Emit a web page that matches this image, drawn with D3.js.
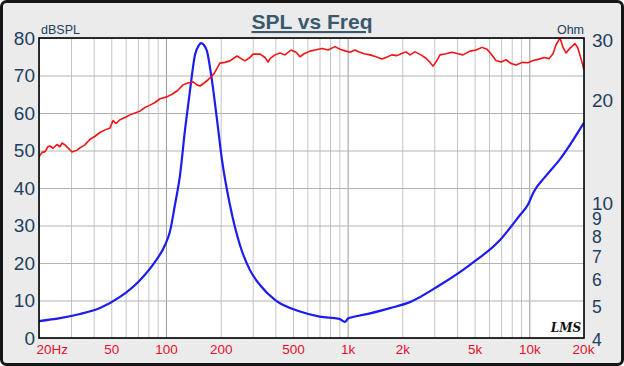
<!DOCTYPE html>
<html><head><meta charset="utf-8">
<script src="https://cdn.jsdelivr.net/npm/d3@7"></script>
<style>
html,body{margin:0;padding:0;background:#fff;}
svg{display:block;font-family:"Liberation Sans",Arial,sans-serif;}
</style></head>
<body>
<svg id="c" width="624" height="366"></svg>
<script>
// ---- data ----
const splFreq = [20,20.8,21.6,22.4,23.0,23.9,25.1,26.1,26.8,27.8,28.9,30.4,32.4,33.6,35.8,38.2,40.7,43.3,46.2,49.2,51.1,53.1,55.8,59.5,63.4,67.5,71.9,76.7,81.7,87.0,92.7,101,108,116,124,132,141,148,154,162,170,184,198,211,225,246,259,272,290,301,329,351,365,374,398,424,452,488,520,547,576,621,661,723,780,852,908,980,1030,1097,1140,1230,1328,1432,1545,1625,1753,1869,1966,2095,2203,2348,2534,2700,2840,2950,3103,3222,3478,3752,4050,4315,4715,5090,5490,5850,6150,6560,6990,7440,7940,8460,9125,9840,10490,11180,12060,12860,13500,14030,14760,15330,15920,16750,17850,18540,19250,20000];
const splDb = [48.3,49.5,49.7,51,51.2,50.6,51.6,51.0,52.0,51.5,50.7,49.6,50.1,50.7,51.5,53,53.8,54.8,55.5,56,58,57.2,58.2,58.8,59.5,60,60.5,61.5,62.1,62.8,63.8,64.3,65,66,67.5,68,68.3,67.5,67.2,68,68.8,70.5,73.3,73.5,73.9,75.2,74.5,73.9,74.8,75.7,75.7,74.8,73.6,74.5,75.5,76,75.5,76.8,76.2,75,75.8,76.5,76.8,77.2,76.8,77.7,77,76.5,76.2,76.8,76.4,75.8,75.5,75,74.4,74.8,75.5,75.3,75.8,76.3,75.5,76.3,75.5,74.6,73.5,72.5,74,75.5,75.8,76.2,75.8,75.5,76.5,76.8,77.5,77,75.8,74,73.6,74.2,73.2,72.8,73.5,73.4,74,74.3,74.8,74.5,75.8,78.2,80,77.5,76,77.3,78.5,77.2,74.5,71.5];

const impFreq = [20,26.1,33.6,43.3,55.8,71.9,87.0,98.7,105,112,119.5,127.3,135.6,144.5,152,156,162,168,179,191,203.5,225,255.5,290,329,398,547,700,900,967,1004,1057,1215,1711,2203,3222,4715,6900,8890,9840,10500,12210,14760,20000];
const impOhm = [4.48,4.57,4.7,4.89,5.27,5.9,6.67,7.46,8.15,9.77,11.95,16.2,21.1,26.8,28.6,29.0,28.6,27.5,22.6,17.3,13.2,9.77,7.46,6.31,5.71,5.17,4.78,4.62,4.55,4.46,4.56,4.6,4.67,4.89,5.09,5.71,6.54,7.73,9.14,9.8,10.6,11.8,13.3,17.0];

const splTicks = [0,10,20,30,40,50,60,70,80];
const ohmTicks = [4,5,6,7,8,9,10,20,30];
const freqTicks = [20,50,100,200,500,1000,2000,5000,10000,20000];
const freqLabels = ["20Hz","50","100","200","500","1k","2k","5k","10k","20k"];
const freqGrid = [20,30,40,50,60,70,80,90,100,200,300,400,500,600,700,800,900,1000,2000,3000,4000,5000,6000,7000,8000,9000,10000,20000];

// ---- layout ----
const W=624,H=366;
const L=39,R=584,T=38,B=338;
const svg=d3.select("#c");

svg.append("rect").attr("x",1.5).attr("y",1.5).attr("width",W-3).attr("height",H-3)
  .attr("rx",5).attr("fill","#ebebeb").attr("stroke","#161616").attr("stroke-width",3);

const x=d3.scaleLog().domain([20,20000]).range([L,R]);
const y=d3.scaleLinear().domain([0,80]).range([B,T]);
const y2=d3.scaleLog().domain([4,30]).range([B,T]);

svg.append("rect").attr("x",L).attr("y",T).attr("width",R-L).attr("height",B-T).attr("fill","#fff");

// grid
const gx=svg.append("g").attr("transform",`translate(0,${B})`)
  .call(d3.axisBottom(x).tickValues(freqGrid).tickSize(-(B-T)).tickFormat(""));
gx.select(".domain").remove();
gx.selectAll(".tick line").attr("stroke",d=>[100,1000,10000].includes(d)?"#9a9a9a":"#c4c4c4").attr("stroke-width",1);

const gy=svg.append("g").attr("transform",`translate(${L},0)`)
  .call(d3.axisLeft(y).tickValues(splTicks).tickSize(-(R-L)).tickFormat(""));
gy.select(".domain").remove();
gy.selectAll(".tick line").attr("stroke","#b4b4b4").attr("stroke-width",1);

// clip
svg.append("clipPath").attr("id","pc").append("rect").attr("x",L).attr("y",T).attr("width",R-L).attr("height",B-T);

const splData=splFreq.map((f,i)=>[f,splDb[i]]);
const impData=impFreq.map((f,i)=>[f,impOhm[i]]);

svg.append("path").attr("clip-path","url(#pc)").datum(impData)
  .attr("fill","none").attr("stroke","#1c1cf0").attr("stroke-width",2.2).attr("stroke-linejoin","round")
  .attr("d",d3.line().x(d=>x(d[0])).y(d=>y2(d[1])).curve(d3.curveMonotoneX));

svg.append("path").attr("clip-path","url(#pc)").datum(splData)
  .attr("fill","none").attr("stroke","#f01414").attr("stroke-width",1.6).attr("stroke-linejoin","round")
  .attr("d",d3.line().x(d=>x(d[0])).y(d=>y(d[1])));

// frame
svg.append("rect").attr("x",L).attr("y",T).attr("width",R-L).attr("height",B-T)
  .attr("fill","none").attr("stroke","#000").attr("stroke-width",1.6);

// axes labels
const ax=svg.append("g").attr("transform",`translate(${L-4},0)`)
  .call(d3.axisLeft(y).tickValues(splTicks).tickSize(0).tickPadding(0));
ax.select(".domain").remove();
ax.selectAll("text").attr("fill","#22405e").attr("font-size",19).attr("font-family","Liberation Sans, Arial, sans-serif");

const ar=svg.append("g").attr("transform",`translate(${R+8},2)`)
  .call(d3.axisRight(y2).tickValues(ohmTicks).tickSize(0).tickPadding(0).tickFormat(d3.format("d")));
ar.select(".domain").remove();
ar.selectAll("text").attr("fill","#22405e").attr("font-size",d=>d<10?17.5:19).attr("font-family","Liberation Sans, Arial, sans-serif");

const ab=svg.append("g").attr("transform",`translate(0,${B+6})`)
  .call(d3.axisBottom(x).tickValues(freqTicks).tickSize(0).tickPadding(0).tickFormat((d,i)=>freqLabels[i]));
ab.select(".domain").remove();
ab.selectAll("text").attr("fill","#e3102c").attr("font-size",13.5).attr("font-family","Liberation Sans, Arial, sans-serif")
  .attr("text-anchor",(d,i)=>i===0?"start":"middle").attr("dx",(d,i)=>i===0?-3:(i===9?-1:0));

// title and units
svg.append("text").attr("x",312).attr("y",29).attr("text-anchor","middle")
  .attr("font-size",21).attr("font-weight","bold").attr("fill","#3b596e")
  .attr("text-decoration","underline").text("SPL vs Freq");
svg.append("text").attr("x",41).attr("y",34).attr("font-size",12.5).attr("fill","#22405e").text("dBSPL");
svg.append("text").attr("x",584).attr("y",34).attr("text-anchor","end").attr("font-size",12.5).attr("fill","#22405e").text("Ohm");

// logo
svg.append("text").attr("x",566).attr("y",332).attr("text-anchor","middle")
  .attr("font-size",12).attr("font-style","italic").attr("font-weight","bold")
  .attr("font-family","DejaVu Serif, serif").attr("fill","#111").text("LMS");
</script>
</body></html>
